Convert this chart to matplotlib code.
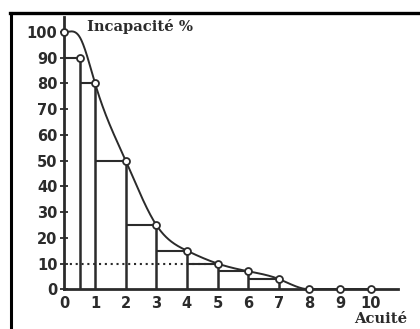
import numpy as np
import matplotlib
matplotlib.use("Agg")
import matplotlib.pyplot as plt
from matplotlib.lines import Line2D

# Visual acuity (tenths) and corresponding incapacity rate (%)
acuity = [0, 0.5, 1, 2, 3, 4, 5, 6, 7, 8, 9, 10]
incapacity = [100, 90, 80, 50, 25, 15, 10, 7, 4, 0, 0, 0]

# Knots of the smooth envelope curve (flat at 0 beyond the last knot)
curve_acuity = [0, 0.5, 1, 2, 3, 4, 5, 6, 7, 8]
curve_incapacity = [100, 98, 80, 50, 25, 15, 10, 7, 4, 0]
curve_end = 10

y_ticks = [0, 10, 20, 30, 40, 50, 60, 70, 80, 90, 100]
x_ticks = [0, 1, 2, 3, 4, 5, 6, 7, 8, 9, 10]
threshold = 10

INK = "#2b2b2b"


def clamped_spline(x, y, xs):
    """Cubic spline with zero slope at both ends."""
    x = np.asarray(x, float)
    y = np.asarray(y, float)
    n = len(x)
    h = np.diff(x)
    A = np.zeros((n, n))
    b = np.zeros(n)
    A[0, 0], A[0, 1] = 2 * h[0], h[0]
    b[0] = 6 * ((y[1] - y[0]) / h[0] - 0.0)
    A[-1, -2], A[-1, -1] = h[-1], 2 * h[-1]
    b[-1] = 6 * (0.0 - (y[-1] - y[-2]) / h[-1])
    for i in range(1, n - 1):
        A[i, i - 1] = h[i - 1]
        A[i, i] = 2 * (h[i - 1] + h[i])
        A[i, i + 1] = h[i]
        b[i] = 6 * ((y[i + 1] - y[i]) / h[i] - (y[i] - y[i - 1]) / h[i - 1])
    M = np.linalg.solve(A, b)
    out = np.empty_like(xs)
    for j, xv in enumerate(xs):
        i = min(max(np.searchsorted(x, xv, side="right") - 1, 0), n - 2)
        a, c = x[i + 1] - xv, xv - x[i]
        out[j] = (M[i] * a**3 + M[i + 1] * c**3) / (6 * h[i]) \
            + (y[i] / h[i] - M[i] * h[i] / 6) * a + (y[i + 1] / h[i] - M[i + 1] * h[i] / 6) * c
    return out


fig = plt.figure(figsize=(4.2, 3.29), dpi=100, facecolor="white")
ax = fig.add_axes([0.1317, 0.0973, 0.8379, 0.860])
ax.set_xlim(-0.3, 11.2)
ax.set_ylim(-3, 107)

# Step construction: verticals down to the axis and horizontals back to the previous abscissa
for i in range(1, len(acuity)):
    xv, yv = acuity[i], incapacity[i]
    if yv <= 0:
        continue
    ax.plot([xv, xv], [0, yv], color=INK, lw=1.8, solid_capstyle="butt", zorder=2)
    ax.plot([acuity[i - 1], xv], [yv, yv], color=INK, lw=1.5, solid_capstyle="butt", zorder=2)

# Dotted 10 % threshold
ax.plot([0, 5], [threshold, threshold], color=INK, lw=1.5, ls=(0, (1, 1.8)), zorder=2)

# Smooth envelope, then the flat tail
xs = np.linspace(curve_acuity[0], curve_acuity[-1], 800)
ax.plot(xs, clamped_spline(curve_acuity, curve_incapacity, xs), color=INK, lw=1.4, zorder=3)
ax.plot([curve_acuity[-1], curve_end], [curve_incapacity[-1]] * 2, color=INK, lw=1.4, zorder=3)

# Points
ax.plot(acuity, incapacity, ls="none", marker="o", ms=5, mfc="white", mec=INK, mew=1.3, zorder=4)

# Axes
for s in ("top", "right"):
    ax.spines[s].set_visible(False)
ax.spines["left"].set_position(("data", 0))
ax.spines["bottom"].set_position(("data", 0))
ax.spines["left"].set_bounds(0, 106)
ax.spines["bottom"].set_bounds(0, 10.9)
for s in ("left", "bottom"):
    ax.spines[s].set_linewidth(2)
    ax.spines[s].set_color(INK)

ax.set_yticks(y_ticks)
ax.set_yticklabels([str(v) for v in y_ticks])
ax.set_xticks(x_ticks)
ax.set_xticklabels([str(v) for v in x_ticks])
ax.tick_params(axis="y", direction="inout", length=6, width=1.3, color=INK, pad=2,
               labelsize=10.5, labelcolor=INK)
ax.tick_params(axis="x", length=0, pad=5, labelsize=10.5, labelcolor=INK)
for lab in ax.get_xticklabels() + ax.get_yticklabels():
    lab.set_fontweight("bold")
    lab.set_family("DejaVu Sans")

fig.text(87 / 420, 1 - 26 / 329, "Incapacité %", family="DejaVu Serif", fontsize=10.6,
         fontweight="bold", color=INK, ha="left", va="center")
fig.text(407 / 420, 1 - 319 / 329, "Acuité", family="DejaVu Serif", fontsize=10.6,
         fontweight="bold", color=INK, ha="right", va="center")

# Frame (top and left edges)
fig.add_artist(Line2D([10 / 420, 1.0], [1 - 13 / 329, 1 - 13 / 329], color="black", lw=2.4,
                      transform=fig.transFigure))
fig.add_artist(Line2D([11 / 420, 11 / 420], [0, 1 - 13 / 329], color="black", lw=2.2,
                      transform=fig.transFigure))

fig.savefig("out.png", dpi=100, facecolor="white")
